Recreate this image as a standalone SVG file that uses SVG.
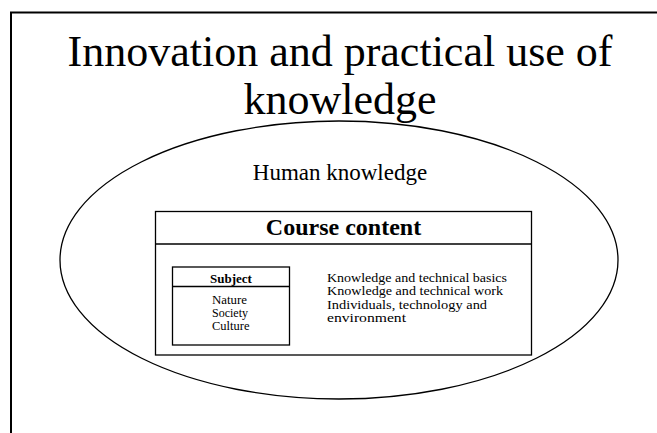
<svg xmlns="http://www.w3.org/2000/svg" width="657" height="433" viewBox="0 0 657 433">
<style>
text{font-family:"Liberation Serif","Times New Roman",serif;fill:#000}
.ln{fill:none;stroke:#000;stroke-width:1.3}
.title{font-size:44px;text-anchor:middle}
.b{font-weight:bold}
.sm{font-size:12px}
.ar{font-size:12px}
</style>
<rect x="0" y="0" width="657" height="433" fill="#fff"/>
<path d="M11,433 V12.5 H657" fill="none" stroke="#000" stroke-width="2"/>
<g id="title">
<text class="title" x="340" y="66">Innovation and practical use of</text>
<text class="title" x="340" y="114">knowledge</text>
</g>
<g id="human-knowledge">
<ellipse class="ln" cx="339" cy="260" rx="279" ry="139"/>
<text x="340" y="180" font-size="23" text-anchor="middle">Human knowledge</text>
</g>
<g id="course-content">
<rect class="ln" x="155.5" y="211.5" width="376" height="143.5"/>
<line class="ln" x1="155.5" y1="244" x2="531.5" y2="244"/>
<text class="b" x="343.5" y="235" font-size="24" text-anchor="middle">Course content</text>
</g>
<g id="subject">
<rect class="ln" x="172.5" y="267" width="117" height="78"/>
<line class="ln" x1="172.5" y1="286.5" x2="289.5" y2="286.5"/>
<text class="b" x="231" y="282.5" font-size="13" text-anchor="middle">Subject</text>
<text class="sm" x="212" y="303.5" textLength="35" lengthAdjust="spacingAndGlyphs">Nature</text>
<text class="sm" x="212" y="316.5" textLength="36" lengthAdjust="spacingAndGlyphs">Society</text>
<text class="sm" x="212" y="329.5" textLength="37.5" lengthAdjust="spacingAndGlyphs">Culture</text>
</g>
<g id="areas">
<text class="ar" x="327" y="282" textLength="180" lengthAdjust="spacingAndGlyphs">Knowledge and technical basics</text>
<text class="ar" x="327" y="295.3" textLength="176" lengthAdjust="spacingAndGlyphs">Knowledge and technical work</text>
<text class="ar" x="327" y="308.6" textLength="160" lengthAdjust="spacingAndGlyphs">Individuals, technology and</text>
<text class="ar" x="327" y="321.9" textLength="79" lengthAdjust="spacingAndGlyphs">environment</text>
</g>
<g id="connectors"></g>
</svg>
